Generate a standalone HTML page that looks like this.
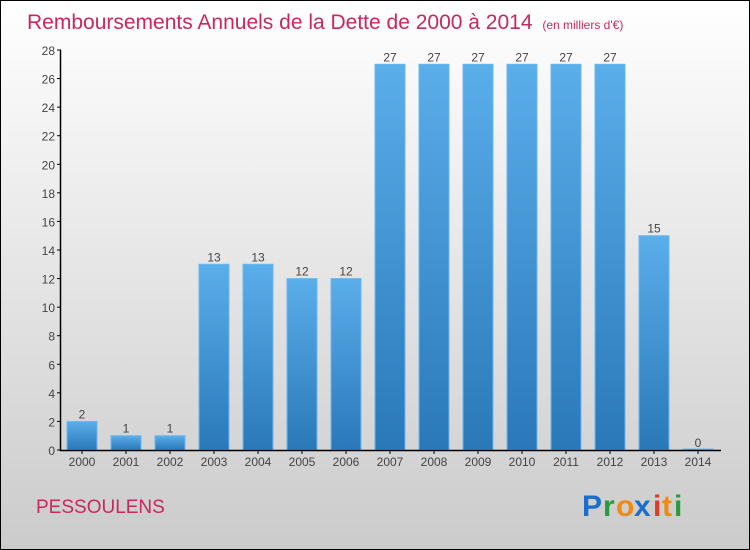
<!DOCTYPE html>
<html><head><meta charset="utf-8"><style>
body{margin:0}
svg{display:block;font-family:"Liberation Sans",sans-serif}
</style></head><body>
<svg width="750" height="550" viewBox="0 0 750 550">
<defs>
<linearGradient id="bg" x1="0" y1="0" x2="0" y2="1"><stop offset="0" stop-color="#ffffff"/><stop offset="1" stop-color="#cbcbcb"/></linearGradient>
<linearGradient id="bar" x1="0" y1="0" x2="0" y2="1"><stop offset="0" stop-color="#5aaeea"/><stop offset="1" stop-color="#2a78b8"/></linearGradient>
</defs>
<rect x="0.5" y="0.5" width="749" height="549" fill="url(#bg)" stroke="#000"/>
<text x="27" y="29" font-size="21" fill="#c8285f">Remboursements Annuels de la Dette de 2000 à 2014 <tspan font-size="12" dx="4">(en milliers d'€)</tspan></text>
<g id="plot"></g>
<text x="36" y="513" font-size="19" fill="#c8285f">PESSOULENS</text>
<g font-size="30" font-weight="bold" font-family="Liberation Sans,sans-serif">
<text x="582" y="516" fill="#1a6fcc">P</text><text x="603" y="516" fill="#2a9a3a">r</text><text x="616" y="516" fill="#f08a10">o</text><text x="634" y="516" fill="#1a6fcc">x</text><text x="653" y="516" fill="#e03a20">i</text><text x="662" y="516" fill="#f08a10">t</text><text x="674" y="516" fill="#2a9a3a">i</text>
</g>
</svg>
<script>
const years=["2000","2001","2002","2003","2004","2005","2006","2007","2008","2009","2010","2011","2012","2013","2014"];
const values=[2,1,1,13,13,12,12,27,27,27,27,27,27,15,0];
const yTicks=[0,2,4,6,8,10,12,14,16,18,20,22,24,26,28];
const NS="http://www.w3.org/2000/svg";
const g=document.getElementById('plot');
const y=v=>450-v*400/28;
const x=i=>82+i*44;
function mk(t,a){const e=document.createElementNS(NS,t);for(const k in a)e.setAttribute(k,a[k]);g.appendChild(e);return e;}
yTicks.forEach(t=>{
 const l=mk('line',{x1:57,x2:61,y1:y(t),y2:y(t),stroke:'#000'});
 
 
 const tx=mk('text',{x:55,y:y(t)+5,'text-anchor':'end','font-size':12,fill:'#444'});
 tx.textContent=t;
 
 
});
values.forEach((v,i)=>{
 const h=Math.max(450-y(v),1);
 const r=mk('rect',{x:x(i)-15,y:450-h,width:30,height:h,fill:'url(#bar)',stroke:'#6ab8f0','stroke-width':1});
 
 
 const vl=mk('text',{x:x(i),y:y(v)-3,'text-anchor':'middle','font-size':12,fill:'#444'});
 vl.textContent=v;
 
 
 const tk=mk('line',{x1:x(i),x2:x(i),y1:450,y2:454,stroke:'#000'});
 
 
 const xl=mk('text',{x:x(i),y:466,'text-anchor':'middle','font-size':12,fill:'#444'});
 xl.textContent=years[i];
 
 
});
const ya=mk('line',{x1:60.5,x2:60.5,y1:50,y2:451,stroke:'#000','stroke-width':1.5});


const xa=mk('line',{x1:60,x2:721,y1:450.5,y2:450.5,stroke:'#000','stroke-width':1.5});


</script>
</body></html>
